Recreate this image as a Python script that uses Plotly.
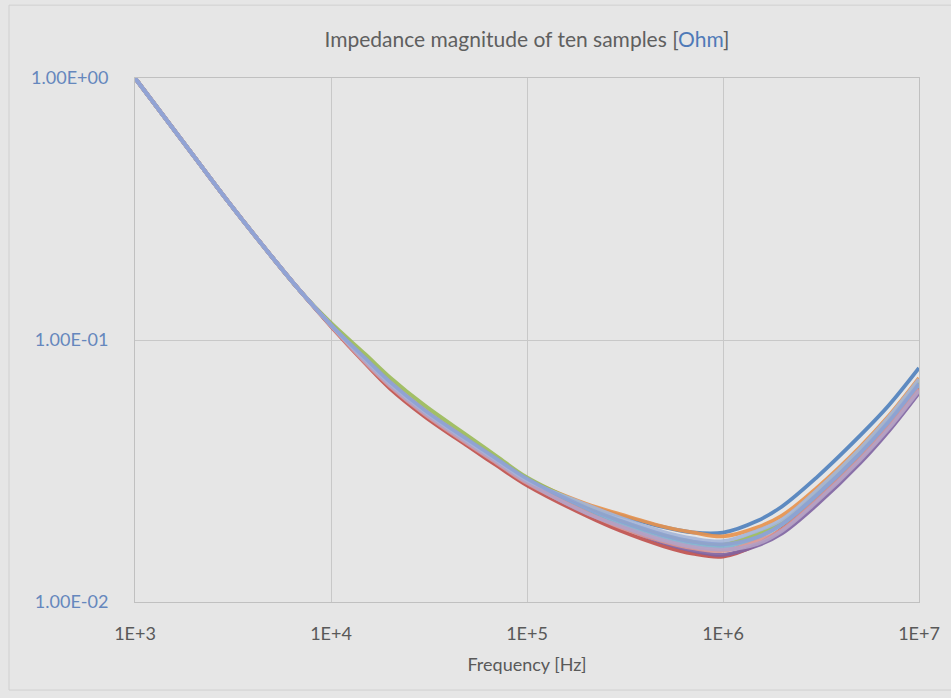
import plotly.graph_objects as go

# Frequency points [Hz]
freq = [1e3, 2e3, 3e3, 5e3, 7e3, 1e4, 1.5e4, 2e4, 3e4, 5e4, 7e4, 1e5,
        2e5, 3e5, 5e5, 7e5, 1e6, 1.5e6, 2e6, 3e6, 5e6, 7e6, 1e7]

# Impedance magnitude [Ohm] of ten samples
s1 = [1.000, 0.502, 0.336, 0.2075, 0.1531, 0.1140, 0.0841, 0.0684, 0.0535, 0.0411, 0.0348, 0.0292,
      0.02343, 0.02136, 0.01930, 0.01843, 0.01841, 0.02042, 0.02315, 0.02985, 0.04313, 0.05621, 0.07819]
s2 = [1.000, 0.502, 0.336, 0.2075, 0.1531, 0.1140, 0.0851, 0.0692, 0.0541, 0.0416, 0.0352, 0.02955,
      0.02370, 0.02160, 0.01937, 0.01843, 0.01780, 0.01927, 0.02136, 0.02722, 0.03906, 0.05125, 0.07161]
s3 = [1.000, 0.502, 0.336, 0.2075, 0.1531, 0.1162, 0.0881, 0.0720, 0.0563, 0.0430, 0.0360, 0.02987,
      0.02317, 0.0204, 0.0180, 0.0170, 0.0166, 0.0182, 0.02018, 0.02601, 0.03758, 0.04955, 0.06923]
s4 = [1.000, 0.502, 0.336, 0.2075, 0.1531, 0.1127, 0.0812, 0.0653, 0.0511, 0.0393, 0.0332, 0.02789,
      0.02137, 0.01869, 0.01631, 0.01530, 0.01491, 0.01660, 0.01903, 0.02483, 0.03587, 0.04699, 0.06531]
s5 = [1.000, 0.502, 0.336, 0.2075, 0.1531, 0.1140, 0.0832, 0.0676, 0.0529, 0.0406, 0.0344, 0.02867,
      0.02212, 0.01940, 0.01679, 0.01569, 0.01514, 0.01642, 0.01826, 0.02343, 0.03386, 0.04484, 0.06286]
s6 = [1.000, 0.502, 0.336, 0.2075, 0.1531, 0.1140, 0.0841, 0.0684, 0.0535, 0.0411, 0.0348, 0.0292,
      0.02237, 0.01993, 0.01759, 0.01661, 0.01622, 0.01758, 0.01971, 0.02541, 0.03671, 0.04840, 0.06762]
s7 = [1.000, 0.502, 0.336, 0.2075, 0.1531, 0.1132, 0.0818, 0.0666, 0.0521, 0.0400, 0.0339, 0.02841,
      0.02196, 0.01926, 0.01699, 0.01605, 0.01567, 0.01707, 0.01891, 0.02438, 0.03523, 0.04644, 0.06489]
s8 = [1.000, 0.502, 0.336, 0.2075, 0.1531, 0.1140, 0.0826, 0.0672, 0.0525, 0.0404, 0.0342, 0.02867,
      0.02187, 0.01948, 0.01719, 0.01624, 0.01585, 0.01667, 0.01869, 0.02409, 0.03481, 0.04589, 0.06412]
s9 = [1.000, 0.502, 0.336, 0.2075, 0.1531, 0.1140, 0.0841, 0.0684, 0.0535, 0.0411, 0.0348, 0.0292,
      0.02354, 0.02097, 0.01850, 0.01748, 0.01706, 0.01871, 0.02064, 0.02662, 0.03846, 0.05070, 0.07084]
s10 = [1.000, 0.502, 0.336, 0.2075, 0.1531, 0.1140, 0.0851, 0.0692, 0.0541, 0.0416, 0.0352, 0.02955,
       0.0229, 0.0204, 0.0180, 0.0170, 0.0166, 0.01771, 0.01985, 0.02559, 0.03697, 0.04875, 0.06811]

series = [s1, s2, s3, s4, s5, s6, s7, s8, s9, s10]
names = ["Sample 1", "Sample 2", "Sample 3", "Sample 4", "Sample 5",
         "Sample 6", "Sample 7", "Sample 8", "Sample 9", "Sample 10"]
colors = ["#4f81bd", "#e8924c", "#9bbb59", "#c0504d", "#8064a2",
          "#7fb3cf", "#d99694", "#b3a2c7", "#a5b6d8", "#8fa2d4"]

x_tickvals = [1e3, 1e4, 1e5, 1e6, 1e7]
x_ticktext = ["1E+3", "1E+4", "1E+5", "1E+6", "1E+7"]
y_tickvals = [1, 0.1, 0.01]
y_ticktext = ["1.00E+00", "1.00E-01", "1.00E-02"]

FONT = "Lato, Open Sans, sans-serif"

fig = go.Figure()
for s, n, c in zip(series, names, colors):
    fig.add_trace(go.Scatter(x=freq, y=s, name=n, mode="lines",
                             line=dict(color=c, width=3.8, shape="spline", smoothing=1.0),
                             opacity=0.9))

fig.update_layout(
    width=951, height=698,
    margin=dict(l=135, r=32, t=78, b=96, autoexpand=False),
    paper_bgcolor="#e6e6e6",
    plot_bgcolor="#e6e6e6",
    showlegend=False,
    font=dict(family=FONT, color="#595959"),
    title=dict(
        text="Impedance magnitude of ten samples [<span style='color:#4f7ab8'>Ohm</span>]",
        x=0.5, xref="paper", xanchor="center",
        y=1, yref="container", yanchor="top", pad=dict(t=32),
        font=dict(size=21, color="#5f5f5f", family=FONT),
    ),
    xaxis=dict(
        type="log", range=[3, 7],
        tickvals=x_tickvals, ticktext=x_ticktext,
        showgrid=True, gridcolor="#c8c8c8", gridwidth=1,
        showline=True, linecolor="#c0c0c0", linewidth=1, mirror=True,
        ticks="", ticklabelstandoff=15,
        tickfont=dict(size=18, color="#595959", family=FONT),
        title=dict(text="Frequency [Hz]", standoff=15,
                   font=dict(size=18, color="#595959", family=FONT)),
        zeroline=False, automargin=False,
    ),
    yaxis=dict(
        type="log", range=[-2, 0],
        tickvals=y_tickvals, ticktext=y_ticktext,
        showgrid=True, gridcolor="#c8c8c8", gridwidth=1,
        showline=True, linecolor="#c0c0c0", linewidth=1, mirror=True,
        ticks="", ticklabelstandoff=22,
        tickfont=dict(size=18, color="#6587bd", family=FONT),
        zeroline=False, automargin=False,
    ),
)

# chart-area border (left and bottom edges visible in the reference)
fig.add_shape(type="rect", xref="paper", yref="paper",
              x0=-0.1607, x1=1.06, y0=-0.168, y1=1.139,
              line=dict(color="#d0d0d0", width=1), fillcolor="rgba(0,0,0,0)", layer="below")

fig.write_html("out.html", config={"displayModeBar": False},
               post_script="document.body.style.margin='0';document.body.style.background='#e8e8e8';")
